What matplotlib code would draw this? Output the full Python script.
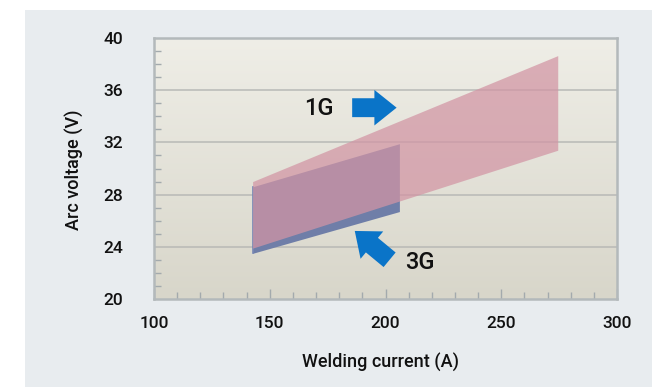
import matplotlib
matplotlib.use("Agg")
import matplotlib.pyplot as plt
import numpy as np
from matplotlib.colors import LinearSegmentedColormap
from matplotlib.patches import Rectangle, FancyArrowPatch

plt.rcParams['font.family'] = ['Roboto', 'DejaVu Sans']
plt.rcParams['font.weight'] = 'medium'

# data
current_1g = [142.6, 274.4]
volt_1g_low = [23.9, 31.4]
volt_1g_high = [29.0, 38.65]

current_3g = [142.6, 206.0]
volt_3g_low = [23.5, 26.7]
volt_3g_high = [28.6, 31.9]

x_ticks = [100, 150, 200, 250, 300]
y_ticks = [20, 24, 28, 32, 36, 40]

fig = plt.figure(figsize=(6.52, 3.87), dpi=100, facecolor='white')
fig.patches.append(Rectangle((25 / 652, 0), 1, 1 - 10 / 387, transform=fig.transFigure,
                             facecolor='#e8ecef', edgecolor='none', zorder=-10))

ax = fig.add_axes([154 / 652, 1 - 299 / 387, 463 / 652, 261 / 387])
ax.set_xlim(100, 300)
ax.set_ylim(20, 40)

# gradient background
cmap = LinearSegmentedColormap.from_list('bg', ['#d8d6ca', '#efeee7'])
grad = np.linspace(0, 1, 256).reshape(-1, 1)
ax.imshow(grad, extent=[100, 300, 20, 40], origin='lower', aspect='auto', cmap=cmap, zorder=0)

for y in y_ticks[1:-1]:
    ax.axhline(y, color='#b8b9b6', lw=1.1, zorder=1)

ax.fill_between(current_3g, volt_3g_low, volt_3g_high, color='#6f7ea8', lw=0, zorder=2)
ax.plot([current_3g[0]] * 2, [volt_3g_low[0], volt_3g_high[0]], color='#7686b4', lw=1.2, zorder=2)
ax.fill_between(current_1g, volt_1g_low, volt_1g_high, color='#d295a4', alpha=0.73, lw=0, zorder=3)

# arrows and labels
style = 'simple,head_width=1.6,head_length=1.0,tail_width=0.85'
ax.add_patch(FancyArrowPatch((184.4, 34.66), (206.0, 34.66), arrowstyle=style,
                             mutation_scale=16, color='#0a74c8', lw=0, zorder=4))
ax.text(171.3, 34.6, '1G', fontsize=17, ha='center', va='center', color='#111111', zorder=4)
ax.add_patch(FancyArrowPatch((202.7, 22.87), (185.8, 25.35), arrowstyle=style,
                             mutation_scale=16, color='#0a74c8', lw=0, zorder=4))
ax.text(214.9, 22.8, '3G', fontsize=17, ha='center', va='center', color='#111111', zorder=4)

ax.set_xticks(x_ticks)
ax.set_yticks(y_ticks)
ax.set_xticks(np.arange(100, 301, 10), minor=True)
ax.set_yticks(np.arange(20, 41, 1), minor=True)
ax.tick_params(which='both', direction='in', colors='#a3aaad', labelcolor='#111111',
               labelsize=12.5)
ax.tick_params(axis='x', which='major', length=7, width=1, pad=12)
ax.tick_params(axis='y', which='major', length=0, pad=22)
ax.tick_params(which='minor', length=5, width=1)
ax.tick_params(top=False, right=False)

for s in ax.spines.values():
    s.set_color('#b3b9bb')
    s.set_linewidth(1.8)
    s.set_zorder(5)

fig.text(380 / 652, 1 - 362 / 387, 'Welding current (A)', ha='center', va='center',
         fontsize=13, color='#111111')
fig.text(75 / 652, 1 - 170 / 387, 'Arc voltage (V)', ha='center', va='center',
         rotation=90, fontsize=13, color='#111111')

fig.savefig('out.png', dpi=100, facecolor=fig.get_facecolor())
